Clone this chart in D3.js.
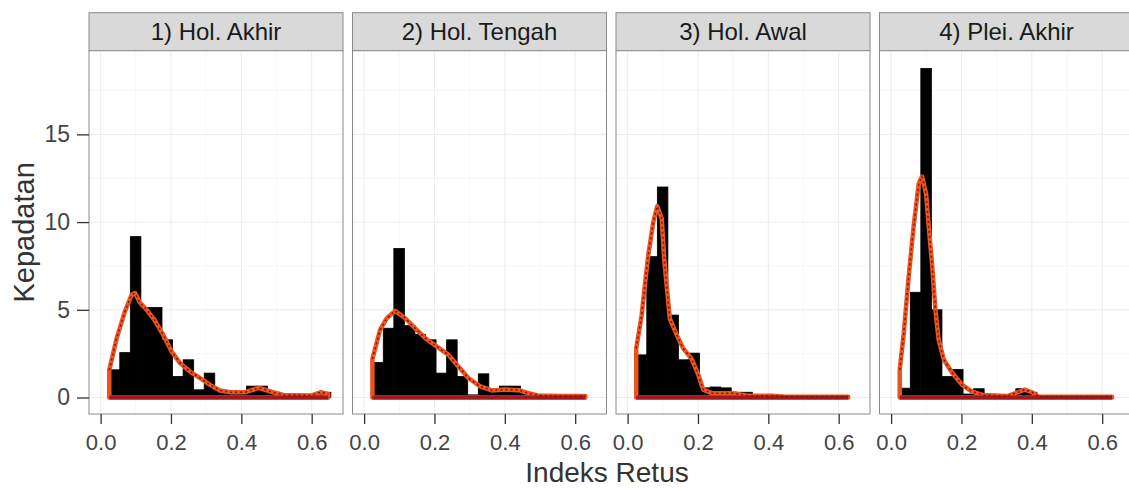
<!DOCTYPE html>
<html>
<head>
<meta charset="utf-8">
<script src="https://cdn.jsdelivr.net/npm/d3@7"></script>
<style>
  body { margin: 0; background: #fff; }
  text { font-family: "Liberation Sans", Arial, sans-serif; }
</style>
</head>
<body>
<script>
// panel labels
const panels = ["1) Hol. Akhir", "2) Hol. Tengah", "3) Hol. Awal", "4) Plei. Akhir"];

// histogram bins (density), binwidth 0.03 starting at 0.0245
const binStart = 0.0245, binWidth = 0.03;
const histAkhir  = [1.58, 2.56, 9.17, 5.13, 5.13, 3.29, 1.2, 2.15, 0.44, 1.39, 0.44, 0.3, 0.3, 0.65, 0.65, 0.3, 0.15, 0.15, 0.15, 0.15, 0.3];
const histTengah = [2.0, 3.95, 8.5, 4.1, 3.6, 3.29, 1.39, 3.29, 1.2, 0.15, 1.35, 0.5, 0.65, 0.65, 0.3, 0.1, 0.1, 0.1, 0.1, 0.1];
const histAwal   = [2.43, 8.03, 12.0, 4.7, 2.15, 2.53, 0.55, 0.6, 0.55, 0.3, 0.3, 0.1, 0.05, 0.05, 0.05, 0.05, 0.05, 0.05, 0.05, 0.05];
const histPlei   = [0.53, 6.0, 18.76, 5.0, 1.2, 1.6, 0.2, 0.5, 0.1, 0.1, 0.1, 0.5, 0.3, 0.05, 0.05, 0.05, 0.05, 0.05, 0.05, 0.05];

// kernel density curves [x, density]
const densAkhir = [[0.0245,1.56],[0.046,3.4],[0.069,4.9],[0.088,5.85],[0.098,5.95],[0.112,5.4],[0.131,5.0],[0.154,4.4],[0.178,3.57],[0.202,2.62],[0.226,1.96],[0.254,1.48],[0.283,1.1],[0.311,0.72],[0.339,0.4],[0.37,0.3],[0.41,0.3],[0.45,0.55],[0.49,0.3],[0.52,0.15],[0.6,0.12],[0.625,0.3],[0.647,0.2]];
const densTengah = [[0.0236,2.2],[0.0455,3.86],[0.0645,4.52],[0.088,4.94],[0.117,4.52],[0.145,3.95],[0.174,3.38],[0.207,2.9],[0.24,2.43],[0.268,1.77],[0.297,1.1],[0.33,0.63],[0.363,0.4],[0.40,0.45],[0.44,0.42],[0.467,0.25],[0.495,0.12],[0.56,0.08],[0.629,0.08]];
const densAwal = [[0.0245,2.8],[0.04,4.7],[0.049,6.4],[0.0586,8.1],[0.073,10.0],[0.084,10.9],[0.097,10.2],[0.104,7.9],[0.111,6.4],[0.12,4.5],[0.139,3.6],[0.158,2.8],[0.182,2.2],[0.201,1.3],[0.215,0.45],[0.239,0.25],[0.3,0.25],[0.34,0.1],[0.41,0.1],[0.45,0.05],[0.627,0.05]];
const densPlei = [[0.0245,1.58],[0.036,3.67],[0.05,6.9],[0.064,9.74],[0.0785,12.2],[0.088,12.6],[0.0996,11.6],[0.107,9.74],[0.117,7.46],[0.126,5.0],[0.135,3.3],[0.15,2.15],[0.174,1.4],[0.202,0.72],[0.23,0.34],[0.26,0.15],[0.33,0.08],[0.36,0.3],[0.38,0.45],[0.40,0.3],[0.42,0.05],[0.628,0.05]];

const hists = [histAkhir, histTengah, histAwal, histPlei];
const dens = [densAkhir, densTengah, densAwal, densPlei];

const xTicks = [0, 0.2, 0.4, 0.6];
const xMinor = [0.1, 0.3, 0.5];
const yTicks = [0, 5, 10, 15];
const yMinor = [2.5, 7.5, 12.5, 17.5];

const W = 1129, H = 489;
const firstLeft = 89, step = 263.5, pw = 254;
const stripTop = 12.7, stripH = 38, plotTop = stripTop + stripH, plotBottom = 414;

const svg = d3.select("body").append("svg")
    .attr("width", W)
    .attr("height", H);

const x = d3.scaleLinear().domain([-0.033, 0.689]).range([0, pw]);
const y = d3.scaleLinear().domain([-0.94, 19.77]).range([plotBottom, plotTop]);

const line = d3.line()
    .x(d => x(d[0]))
    .y(d => y(d[1]));

panels.forEach(function (name, i) {
    const g = svg.append("g")
        .attr("transform", "translate(" + (firstLeft + i * step) + ",0)");

    // strip
    g.append("rect")
        .attr("x", 0).attr("y", stripTop)
        .attr("width", pw).attr("height", stripH)
        .attr("fill", "#d9d9d9")
        .attr("stroke", "#8a8a8a")
        .attr("stroke-width", 1);
    g.append("text")
        .attr("x", pw / 2).attr("y", stripTop + stripH / 2 + 8)
        .attr("text-anchor", "middle")
        .attr("font-size", 24)
        .attr("fill", "#1a1a1a")
        .text(name);

    // panel background + grid
    g.append("rect")
        .attr("x", 0).attr("y", plotTop)
        .attr("width", pw).attr("height", plotBottom - plotTop)
        .attr("fill", "#fff");

    g.selectAll(".gminx").data(xMinor).enter().append("line")
        .attr("x1", d => x(d)).attr("x2", d => x(d))
        .attr("y1", plotTop).attr("y2", plotBottom)
        .attr("stroke", "#f7f7f7");
    g.selectAll(".gminy").data(yMinor).enter().append("line")
        .attr("x1", 0).attr("x2", pw)
        .attr("y1", d => y(d)).attr("y2", d => y(d))
        .attr("stroke", "#f7f7f7");
    g.selectAll(".gx").data(xTicks).enter().append("line")
        .attr("x1", d => x(d)).attr("x2", d => x(d))
        .attr("y1", plotTop).attr("y2", plotBottom)
        .attr("stroke", "#ececec");
    g.selectAll(".gy").data(yTicks).enter().append("line")
        .attr("x1", 0).attr("x2", pw)
        .attr("y1", d => y(d)).attr("y2", d => y(d))
        .attr("stroke", "#ececec");

    // histogram bars
    g.selectAll(".bar").data(hists[i]).enter().append("rect")
        .attr("x", (d, k) => x(binStart + k * binWidth))
        .attr("width", x(binWidth) - x(0))
        .attr("y", d => y(d))
        .attr("height", d => y(0) - y(d))
        .attr("fill", "#000")
        .attr("stroke", "#000")
        .attr("stroke-width", 0.8);

    // density outline (polygon incl. baseline)
    const dd = dens[i];
    const first = dd[0], last = dd[dd.length - 1];
    g.append("path")
        .attr("d", "M" + x(first[0]) + "," + y(0) + "L" + line(dd).slice(1) + "L" + x(last[0]) + "," + y(0) + "Z")
        .attr("fill", "none")
        .attr("stroke", "#ea5420")
        .attr("stroke-width", 4.5)
        .attr("stroke-linejoin", "round");
    g.append("line")
        .attr("x1", x(first[0])).attr("x2", x(last[0]))
        .attr("y1", y(0)).attr("y2", y(0))
        .attr("stroke", "#a3181c")
        .attr("stroke-width", 4);
    g.append("path")
        .attr("d", line(dd))
        .attr("fill", "none")
        .attr("stroke", "#7a1410")
        .attr("stroke-width", 1.5)
        .attr("stroke-dasharray", "2,3");

    // panel border
    g.append("rect")
        .attr("x", 0).attr("y", plotTop)
        .attr("width", pw).attr("height", plotBottom - plotTop)
        .attr("fill", "none")
        .attr("stroke", "#8a8a8a")
        .attr("stroke-width", 1);

    // x axis
    const xAxis = g.append("g")
        .attr("transform", "translate(0," + plotBottom + ")")
        .call(d3.axisBottom(x).tickValues(xTicks).tickFormat(d3.format(".1f")).tickSize(10).tickPadding(10));
    xAxis.select(".domain").remove();
    xAxis.selectAll(".tick line").attr("stroke", "#333").attr("stroke-width", 1.3);
    xAxis.selectAll("text").attr("font-size", 22).attr("fill", "#444")
        .style("font-family", "'Liberation Sans', Arial, sans-serif");

    if (i === 0) {
        const yAxis = g.append("g")
            .call(d3.axisLeft(y).tickValues(yTicks).tickSize(12).tickPadding(7));
        yAxis.select(".domain").remove();
        yAxis.selectAll(".tick line").attr("stroke", "#333").attr("stroke-width", 1.3);
        yAxis.selectAll("text").attr("font-size", 23).attr("fill", "#444")
            .style("font-family", "'Liberation Sans', Arial, sans-serif");
    }
});

// axis titles
svg.append("text")
    .attr("x", 607).attr("y", 482)
    .attr("text-anchor", "middle")
    .attr("font-size", 28)
    .attr("fill", "#333")
    .text("Indeks Retus");

svg.append("text")
    .attr("transform", "translate(34," + ((plotTop + plotBottom) / 2) + ")rotate(-90)")
    .attr("text-anchor", "middle")
    .attr("font-size", 29)
    .attr("fill", "#333")
    .text("Kepadatan");
</script>
</body>
</html>
